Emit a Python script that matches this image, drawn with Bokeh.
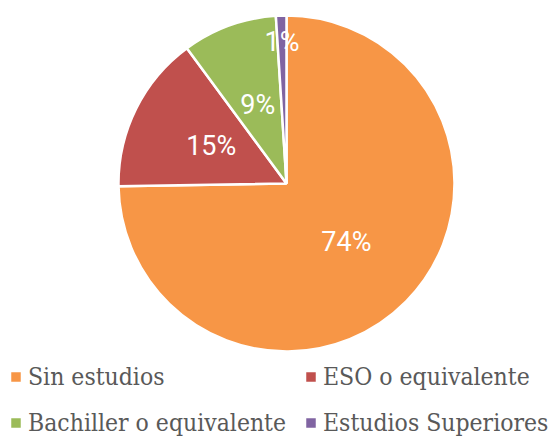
import math
from bokeh.plotting import figure
from bokeh.models import ColumnDataSource, Legend, LegendItem
from bokeh.core.properties import value
from bokeh.embed import file_html
from bokeh.resources import INLINE

categories = ["Sin estudios", "ESO o equivalente", "Bachiller o equivalente", "Estudios Superiores"]
values = [74, 15, 9, 1]
colors = ["#F79646", "#C0504D", "#9BBB59", "#8064A2"]

W, H = 556, 438
cx, cy, R = 286, H - 183, 168

total = float(sum(values))
starts, ends, lx, ly, labels = [], [], [], [], []
cum = 0.0
for v in values:
    f0 = cum / total
    cum += v
    f1 = cum / total
    a0 = math.pi / 2 - 2 * math.pi * f0
    a1 = math.pi / 2 - 2 * math.pi * f1
    starts.append(a0)
    ends.append(a1)
    mid = (a0 + a1) / 2
    rr = 0.5 * R if v / total > 0.03 else 0.84 * R
    lx.append(cx + rr * math.cos(mid))
    ly.append(cy + rr * math.sin(mid))
    labels.append(f"{v}%")

src = ColumnDataSource(dict(cat=categories, val=values, color=colors,
                            start=starts, end=ends, lx=lx, ly=ly, label=labels))

p = figure(width=W, height=H, x_range=(0, W), y_range=(0, H),
           output_backend="svg", toolbar_location=None, min_border=0,
           outline_line_color=None)
p.axis.visible = False
p.grid.visible = False
p.background_fill_color = "white"

r = p.wedge(x=cx, y=cy, radius=R, start_angle="start", end_angle="end",
            direction="clock", fill_color="color", line_color="white",
            line_width=2.5, source=src)

p.text(x="lx", y="ly", text="label", source=src, text_color="white",
       text_font=value("Roboto"),
       text_font_size="27px", text_align="center", text_baseline="middle")

# row-major order in a 2-column legend (legend fills column by column)
order = [0, 2, 1, 3]
items = [LegendItem(label=categories[i], renderers=[r], index=i) for i in order]
legend = Legend(items=items, ncols=2, location=(8, 1),
                label_text_font="DejaVu Serif Condensed",
                label_text_font_size="24.5px", label_text_color="#595959",
                glyph_width=15, glyph_height=15, label_standoff=5,
                label_height=24, spacing=17, padding=0, margin=0,
                border_line_color=None, background_fill_alpha=0)
p.add_layout(legend, "center")

open("out.html", "w").write(file_html(p, INLINE))
